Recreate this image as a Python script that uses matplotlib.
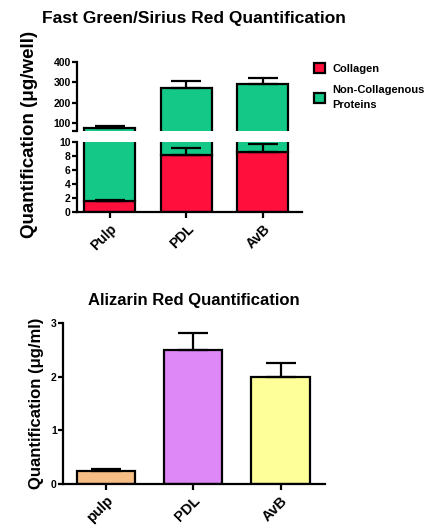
import matplotlib.pyplot as plt
import numpy as np

plt.rcParams["font.family"] = ["Liberation Sans", "DejaVu Sans"]
plt.rcParams["font.weight"] = "bold"

categories = ["Pulp", "PDL", "AvB"]
collagen = [1.6, 8.1, 8.6]
collagen_err = [0.15, 1.0, 1.1]
total = [76, 272, 290]
total_err = [8, 33, 33]

aliz_categories = ["pulp", "PDL", "AvB"]
alizarin = [0.25, 2.5, 2.0]
alizarin_err = [0.02, 0.32, 0.26]

RED = "#FF0F3C"
GREEN = "#14C887"
ALIZ_COLORS = ["#F6BE84", "#DD88F6", "#FFFF99"]
LW = 1.6


def style_ax(ax):
    for s in ["top", "right"]:
        ax.spines[s].set_visible(False)
    for s in ["left", "bottom"]:
        ax.spines[s].set_linewidth(LW)
    ax.tick_params(width=LW, length=3.5, labelsize=7.5, pad=1)


fig = plt.figure(figsize=(4.41, 5.29), dpi=100)
x = np.arange(len(categories))
green_h = [t - c for t, c in zip(total, collagen)]

ax_up = fig.add_axes([0.1746, 0.7524, 0.5102, 0.1304])
ax_lo = fig.add_axes([0.1746, 0.5992, 0.5102, 0.1324])

for ax in (ax_up, ax_lo):
    ax.bar(x, collagen, width=0.667, color=RED, edgecolor="black", linewidth=LW, label="Collagen", zorder=2)
    ax.bar(x, green_h, bottom=collagen, width=0.667, color=GREEN, edgecolor="black", linewidth=LW,
           label="Non-Collagenous\nProteins", zorder=2)
    ax.errorbar(x, collagen, yerr=[np.zeros(3), collagen_err], fmt="none", ecolor="black",
                elinewidth=LW, capsize=10.5, capthick=LW, zorder=3)
    ax.errorbar(x, total, yerr=[np.zeros(3), total_err], fmt="none", ecolor="black",
                elinewidth=LW, capsize=10.5, capthick=LW, zorder=3)
    ax.set_xlim(-0.431, 2.51)
    style_ax(ax)

ax_up.set_ylim(60, 400)
ax_up.set_yticks([60, 100, 200, 300, 400])
ax_up.set_yticklabels(["", "100", "200", "300", "400"], fontweight="bold")
ax_up.spines["bottom"].set_visible(False)
ax_up.set_xticks([])

ax_lo.set_ylim(0, 10)
ax_lo.set_yticks([0, 2, 4, 6, 8, 10])
ax_lo.set_yticklabels(["0", "2", "4", "6", "8", "10"], fontweight="bold")
ax_lo.set_xticks(x)
ax_lo.set_xticklabels(categories, rotation=45, ha="right", rotation_mode="anchor",
                      fontsize=10, fontweight="bold")
ax_lo.tick_params(axis="x", length=4, pad=3)

fig.text(0.44, 0.965, "Fast Green/Sirius Red Quantification", ha="center", va="center",
         fontsize=12.5, fontweight="bold")
fig.text(0.066, 0.745, "Quantification (\u03bcg/well)", rotation=90, ha="center", va="center",
         fontsize=13.5, fontweight="bold")

handles, labels = ax_up.get_legend_handles_labels()
leg = fig.legend(handles, labels, loc="upper left", bbox_to_anchor=(0.69, 0.9), frameon=False,
                 fontsize=8, handlelength=1.0, handleheight=1.0, handletextpad=0.6, labelspacing=1.0)
for t in leg.get_texts():
    t.set_fontweight("bold")
    t.set_linespacing(1.7)

# Alizarin
ax2 = fig.add_axes([0.1429, 0.0851, 0.5941, 0.3043])
xa = np.arange(len(aliz_categories))
ax2.bar(xa, alizarin, width=0.667, color=ALIZ_COLORS, edgecolor="black", linewidth=LW, zorder=2)
ax2.errorbar(xa, alizarin, yerr=[np.zeros(3), alizarin_err], fmt="none", ecolor="black",
             elinewidth=LW, capsize=11, capthick=LW, zorder=3)
ax2.set_xlim(-0.494, 2.51)
ax2.set_ylim(0, 3)
ax2.set_yticks([0, 1, 2, 3])
ax2.set_xticks(xa)
style_ax(ax2)
ax2.set_yticklabels(["0", "1", "2", "3"], fontweight="bold")
ax2.set_xticklabels(aliz_categories, rotation=45, ha="right", rotation_mode="anchor",
                    fontsize=10.5, fontweight="bold")
ax2.tick_params(axis="x", length=4, pad=3)
ax2.set_title("Alizarin Red Quantification", fontsize=12, fontweight="bold", pad=13)
ax2.set_ylabel("Quantification (\u03bcg/ml)", fontsize=12, fontweight="bold", labelpad=5)

fig.savefig("out.png", dpi=100)
